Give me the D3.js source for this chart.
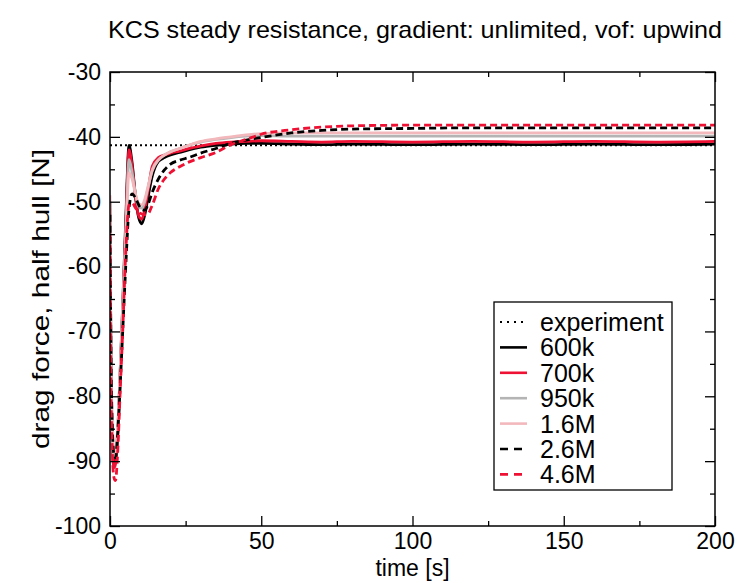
<!DOCTYPE html>
<html><head><meta charset="utf-8">
<script src="https://cdn.jsdelivr.net/npm/d3@7"></script>
<style>
html,body{margin:0;padding:0;background:#fff;}
svg{display:block;font-family:"Liberation Sans",Arial,sans-serif;}
</style></head>
<body><svg id="c" width="744" height="583"></svg>
<script>
const title = "KCS steady resistance, gradient: unlimited, vof: upwind";
const xLabel = "time [s]";
const yLabel = "drag force, half hull [N]";
const xTicks = [0, 50, 100, 150, 200];
const yTicks = [-100, -90, -80, -70, -60, -50, -40, -30];
const experimentValue = -41.3;

const time = [0, 0.3, 0.8, 1.3, 1.8, 2.5, 3.3, 4.2, 5.2, 6.3, 7.3, 8.5, 9.5, 10.5, 11.5, 12.5, 14, 16, 18, 20, 23, 26, 30, 35, 40, 45, 50, 60, 70, 80, 100, 120, 140, 160, 180, 200];

const s600k = [-50, -75, -87, -90, -89.5, -86, -77, -66, -53, -41.3, -44, -49.5, -52.5, -53.4, -52, -49.5, -46, -43.8, -43.2, -42.8, -42.4, -42.0, -41.6, -41.3, -41.1, -41.0, -41.0, -41.1, -41.2, -41.1, -41.2, -41.1, -41.2, -41.1, -41.2, -41.1];
const s700k = [-51, -77, -88, -91, -90.5, -87, -78, -67, -54, -42.0, -44.5, -49.5, -52.2, -52.7, -51.2, -48.5, -44.5, -43.2, -42.8, -42.5, -42.2, -41.8, -41.4, -41.0, -40.8, -40.7, -40.6, -40.7, -40.8, -40.7, -40.8, -40.7, -40.8, -40.7, -40.8, -40.7];
const s950k = [-50, -74, -86, -89.5, -89, -85.5, -77, -66, -55, -43.5, -45.5, -49, -50.8, -51.0, -50, -48, -45, -43.5, -42.8, -42.3, -41.8, -41.3, -40.8, -40.4, -40.1, -39.9, -39.8, -39.9, -39.9, -39.9, -39.9, -39.9, -39.9, -39.9, -39.9, -39.9];
const s16M = [-49, -73, -85, -89, -88.5, -85, -77, -67, -56, -45.5, -46.5, -49, -50.3, -50.5, -49.6, -47.8, -45.2, -43.6, -42.8, -42.3, -41.8, -41.3, -40.7, -40.3, -40.0, -39.7, -39.5, -39.4, -39.4, -39.4, -39.4, -39.4, -39.4, -39.4, -39.4, -39.4];
const s26M = [-52, -72, -85, -89, -89.5, -86, -79, -70, -60, -51, -48.8, -49.5, -50.5, -51.2, -51.3, -50.5, -48.5, -46.5, -45.1, -44.2, -43.6, -43.2, -42.5, -41.8, -41.0, -40.5, -40.1, -39.4, -39.0, -38.8, -38.7, -38.6, -38.6, -38.6, -38.6, -38.6];
const s46M = [-55, -78, -89, -92.5, -93, -89, -80, -70, -58, -50.5, -50.2, -51, -51.6, -51.9, -52, -51.9, -50.5, -48, -46.5, -45.5, -44.6, -43.9, -43.2, -42.4, -41.2, -40.4, -39.6, -38.9, -38.5, -38.3, -38.2, -38.2, -38.2, -38.2, -38.2, -38.2];

const seriesNames = ["600k", "700k", "950k", "1.6M", "2.6M", "4.6M"];
const seriesValues = [s600k, s700k, s950k, s16M, s26M, s46M];
const seriesColors = ["#000000", "#ee1133", "#b4b4b4", "#f2b8bc", "#000000", "#ee1133"];
const seriesDashed = [false, false, false, false, true, true];

const svg = d3.select("#c");
const L = 110, R = 715, T = 72, B = 526;
const x = d3.scaleLinear().domain([0, 200]).range([L, R]);
const y = d3.scaleLinear().domain([-100, -30]).range([B, T]);

// title
svg.append("text").attr("x", 415).attr("y", 38).attr("text-anchor", "middle")
  .attr("font-size", 24).attr("textLength", 614).attr("lengthAdjust", "spacingAndGlyphs")
  .text(title);

svg.append("clipPath").attr("id", "clip").append("rect")
  .attr("x", L).attr("y", T).attr("width", R - L).attr("height", B - T);
const plot = svg.append("g").attr("clip-path", "url(#clip)");

// experiment
plot.append("line").attr("x1", x(0)).attr("x2", x(200))
  .attr("y1", y(experimentValue)).attr("y2", y(experimentValue))
  .attr("stroke", "#000").attr("stroke-width", 2).attr("stroke-dasharray", "2,3");

const line = d3.line().x((d, i) => x(time[i])).y(d => y(d)).curve(d3.curveMonotoneX);
seriesValues.forEach((vals, k) => {
  plot.append("path").datum(vals).attr("d", line).attr("fill", "none")
    .attr("stroke", seriesColors[k]).attr("stroke-width", 2.8)
    .attr("stroke-linejoin", "round")
    .attr("stroke-dasharray", seriesDashed[k] ? "7,4" : null);
});

// axes with inward ticks on all sides
const xMinor = d3.range(0, 201, 25).filter(v => v % 50 !== 0);
const yMinor = d3.range(-95, -30, 10);
function tickSet(g, axisGen) { return g.call(axisGen).call(s => s.select(".domain").remove()); }
const fs = 23;
const fmt = d => String(d);
const gxB = svg.append("g").attr("transform", `translate(0,${B})`);
tickSet(gxB, d3.axisBottom(x).tickValues(xTicks).tickSize(-10).tickPadding(7).tickFormat(fmt));
const gxBm = svg.append("g").attr("transform", `translate(0,${B})`);
tickSet(gxBm, d3.axisBottom(x).tickValues(xMinor).tickSize(-5).tickFormat(""));
const gxT = svg.append("g").attr("transform", `translate(0,${T})`);
tickSet(gxT, d3.axisTop(x).tickValues(xTicks).tickSize(-10).tickFormat(""));
const gxTm = svg.append("g").attr("transform", `translate(0,${T})`);
tickSet(gxTm, d3.axisTop(x).tickValues(xMinor).tickSize(-5).tickFormat(""));
const gyL = svg.append("g").attr("transform", `translate(${L},0)`);
tickSet(gyL, d3.axisLeft(y).tickValues(yTicks).tickSize(-10).tickPadding(9).tickFormat(fmt));
const gyLm = svg.append("g").attr("transform", `translate(${L},0)`);
tickSet(gyLm, d3.axisLeft(y).tickValues(yMinor).tickSize(-5).tickFormat(""));
const gyR = svg.append("g").attr("transform", `translate(${R},0)`);
tickSet(gyR, d3.axisRight(y).tickValues(yTicks).tickSize(-10).tickFormat(""));
const gyRm = svg.append("g").attr("transform", `translate(${R},0)`);
tickSet(gyRm, d3.axisRight(y).tickValues(yMinor).tickSize(-5).tickFormat(""));
svg.selectAll(".tick line").attr("stroke", "#000").attr("stroke-width", 1.3);
svg.selectAll(".tick text").attr("font-size", fs).attr("fill", "#000").attr("font-family", "Liberation Sans, Arial, sans-serif");

svg.append("rect").attr("x", L).attr("y", T).attr("width", R - L).attr("height", B - T)
  .attr("fill", "none").attr("stroke", "#000").attr("stroke-width", 1.5);

// axis labels
svg.append("text").attr("x", (L + R) / 2).attr("y", 576).attr("text-anchor", "middle")
  .attr("font-size", 23).text(xLabel);
svg.append("text").attr("transform", `translate(49,${(T + B) / 2}) rotate(-90)`)
  .attr("text-anchor", "middle").attr("font-size", 24)
  .attr("textLength", 300).attr("lengthAdjust", "spacingAndGlyphs").text(yLabel);

// legend
const lg = svg.append("g");
lg.append("rect").attr("x", 494).attr("y", 302).attr("width", 178).attr("height", 188)
  .attr("fill", "#fff").attr("stroke", "#000").attr("stroke-width", 1.3);
const legendNames = ["experiment"].concat(seriesNames);
const legendColors = ["#000"].concat(seriesColors);
const legendDash = ["2,5"].concat(seriesDashed.map(d => d ? "8,6" : null));
legendNames.forEach((n, i) => {
  const yy = 322 + i * 25.4;
  lg.append("line").attr("x1", 500).attr("x2", 527).attr("y1", yy).attr("y2", yy)
    .attr("stroke", legendColors[i]).attr("stroke-width", i === 0 ? 2 : 2.6)
    .attr("stroke-dasharray", legendDash[i]);
  lg.append("text").attr("x", 540).attr("y", yy + 9).attr("font-size", 25).text(n);
});
</script></body></html>
